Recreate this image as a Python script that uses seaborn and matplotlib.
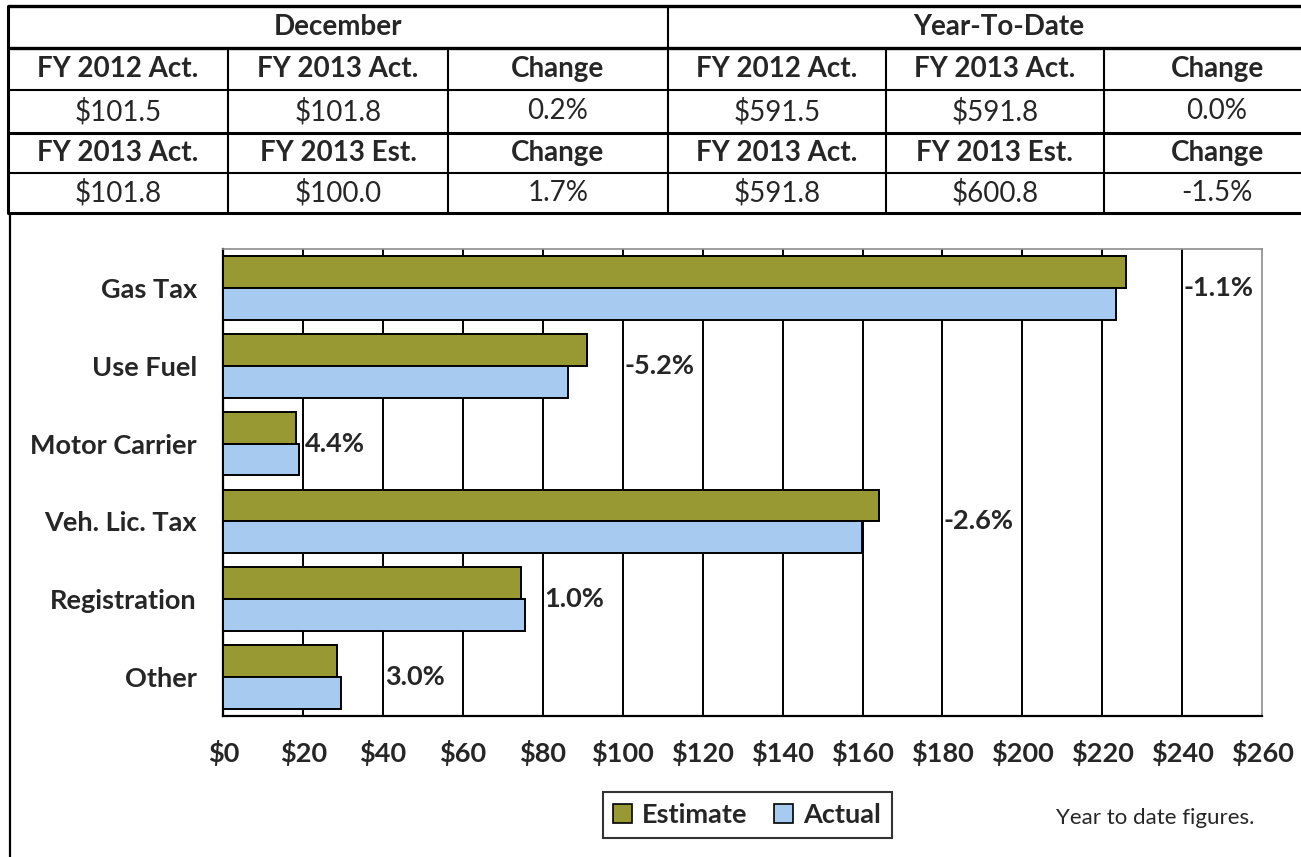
import math
import matplotlib
matplotlib.use("Agg")
import matplotlib.pyplot as plt
from matplotlib.patches import Patch
from matplotlib.ticker import FixedLocator
import pandas as pd
import seaborn as sns

# chart data (year to date, $ millions)
categories = ["Gas Tax", "Use Fuel", "Motor Carrier", "Veh. Lic. Tax", "Registration", "Other"]
estimate = [226.0, 91.1, 18.1, 164.2, 74.6, 28.5]
actual = [223.5, 86.4, 18.9, 159.9, 75.4, 29.35]
pct_labels = ["-1.1%", "-5.2%", "4.4%", "-2.6%", "1.0%", "3.0%"]
x_ticks = list(range(0, 261, 20))

# summary table above the chart
group_titles = ["December", "Year-To-Date"]
table_rows = [
    ["FY 2012 Act.", "FY 2013 Act.", "Change", "FY 2012 Act.", "FY 2013 Act.", "Change"],
    ["$101.5", "$101.8", "0.2%", "$591.5", "$591.8", "0.0%"],
    ["FY 2013 Act.", "FY 2013 Est.", "Change", "FY 2013 Act.", "FY 2013 Est.", "Change"],
    ["$101.8", "$100.0", "1.7%", "$591.8", "$600.8", "-1.5%"],
]
bold_rows = [True, False, True, False]
note = "Year to date figures."

olive = "#999933"
blue = "#A6CAF0"

sns.set_style("white")
plt.rcParams["font.family"] = ["Lato", "DejaVu Sans"]

df = pd.DataFrame({
    "category": categories * 2,
    "value": estimate + actual,
    "series": ["Estimate"] * len(categories) + ["Actual"] * len(categories),
})

fig = plt.figure(figsize=(13.01, 8.57), dpi=100)
fs = 19.5
fs_tab = 20

# ---- table drawn in pixel coordinates on an overlay axes
tab = fig.add_axes([0, 0, 1, 1])
tab.set_xlim(0, 1301)
tab.set_ylim(857, 0)
tab.axis("off")

col_x = [7.5, 228, 448, 668, 886, 1104, 1330]
row_y = [6, 47.5, 90, 132.5, 173, 212.5]
row_lw = [2.4, 2.4, 1.5, 2.2, 1.5, 2.2]
for y, lw in zip(row_y, row_lw):
    tab.plot([col_x[0], 1301], [y, y], color="black", lw=lw, solid_capstyle="butt")
tab.plot([col_x[0], col_x[0]], [row_y[0], row_y[-1]], color="black", lw=2.2)
tab.plot([col_x[3], col_x[3]], [row_y[0], row_y[-1]], color="black", lw=1.5)
for x in col_x[1:3] + col_x[4:6]:
    tab.plot([x, x], [row_y[1], row_y[-1]], color="black", lw=1.5)

tab.text((col_x[0] + col_x[3]) / 2, (row_y[0] + row_y[1]) / 2, group_titles[0],
         ha="center", va="center", fontsize=fs_tab, fontweight="bold")
tab.text((col_x[3] + col_x[6]) / 2, (row_y[0] + row_y[1]) / 2, group_titles[1],
         ha="center", va="center", fontsize=fs_tab, fontweight="bold")
for r, (row, bold) in enumerate(zip(table_rows, bold_rows)):
    yc = (row_y[r + 1] + row_y[r + 2]) / 2
    for c, txt in enumerate(row):
        tab.text((col_x[c] + col_x[c + 1]) / 2, yc, txt, ha="center", va="center",
                 fontsize=fs_tab, fontweight="bold" if bold else "normal")

# frame line on the left of the chart area
tab.plot([10, 10], [214, 857], color="black", lw=1.6)

# ---- bar chart
ax = fig.add_axes([223.3 / 1301, 1 - 716 / 857, (1262 - 223.3) / 1301, (716 - 249) / 857])
sns.barplot(data=df, x="value", y="category", hue="series", orient="h",
            palette=[olive, blue], saturation=1, edgecolor="black", linewidth=1.4,
            width=0.82, gap=0, legend=False, ax=ax, zorder=3)

ax.set_xlim(0, 260)
ax.set_ylim(len(categories) - 0.5, -0.5)
ax.set_xticks(x_ticks)
ax.set_xticklabels([f"${v}" for v in x_ticks], fontsize=fs, fontweight="bold")
ax.set_yticks(range(len(categories)))
ax.set_yticklabels(categories, fontsize=fs, fontweight="bold")
ax.yaxis.set_minor_locator(FixedLocator([i - 0.5 for i in range(len(categories) + 1)]))
ax.tick_params(axis="y", which="major", length=0, pad=19)
ax.tick_params(axis="y", which="minor", length=7, width=1.4, color="black", direction="out")
ax.tick_params(axis="x", which="major", length=7, width=1.4, color="black", direction="out", pad=10)
ax.set_xlabel("")
ax.set_ylabel("")

for x in x_ticks[1:-1]:
    ax.axvline(x, color="black", lw=1.4, zorder=1)

for side in ["left", "bottom"]:
    ax.spines[side].set_color("black")
    ax.spines[side].set_linewidth(1.6)
for side in ["top", "right"]:
    ax.spines[side].set_color("#8c8c8c")
    ax.spines[side].set_linewidth(1.2)

# percentage change labels, placed at the next gridline past the longer bar
for i, lab in enumerate(pct_labels):
    xpos = math.ceil(max(estimate[i], actual[i]) / 20) * 20
    ax.text(xpos + 0.4, i, lab, ha="left", va="center", fontsize=fs,
            fontweight="bold", zorder=4)

handles = [Patch(facecolor=olive, edgecolor="black", lw=1.2, label="Estimate"),
           Patch(facecolor=blue, edgecolor="black", lw=1.2, label="Actual")]
leg = fig.legend(handles=handles, loc="center", bbox_to_anchor=(747 / 1301, 1 - 815 / 857),
                 ncol=2, frameon=True, fancybox=False, handlelength=0.7, handleheight=0.7,
                 handletextpad=0.35, columnspacing=1.0, borderpad=0.4, borderaxespad=0,
                 prop={"size": fs, "weight": "bold"})
leg.get_frame().set_edgecolor("black")
leg.get_frame().set_linewidth(1.5)

fig.text(1155 / 1301, 1 - 818 / 857, note, ha="center", va="center", fontsize=16)

fig.savefig("out.png", dpi=100)
